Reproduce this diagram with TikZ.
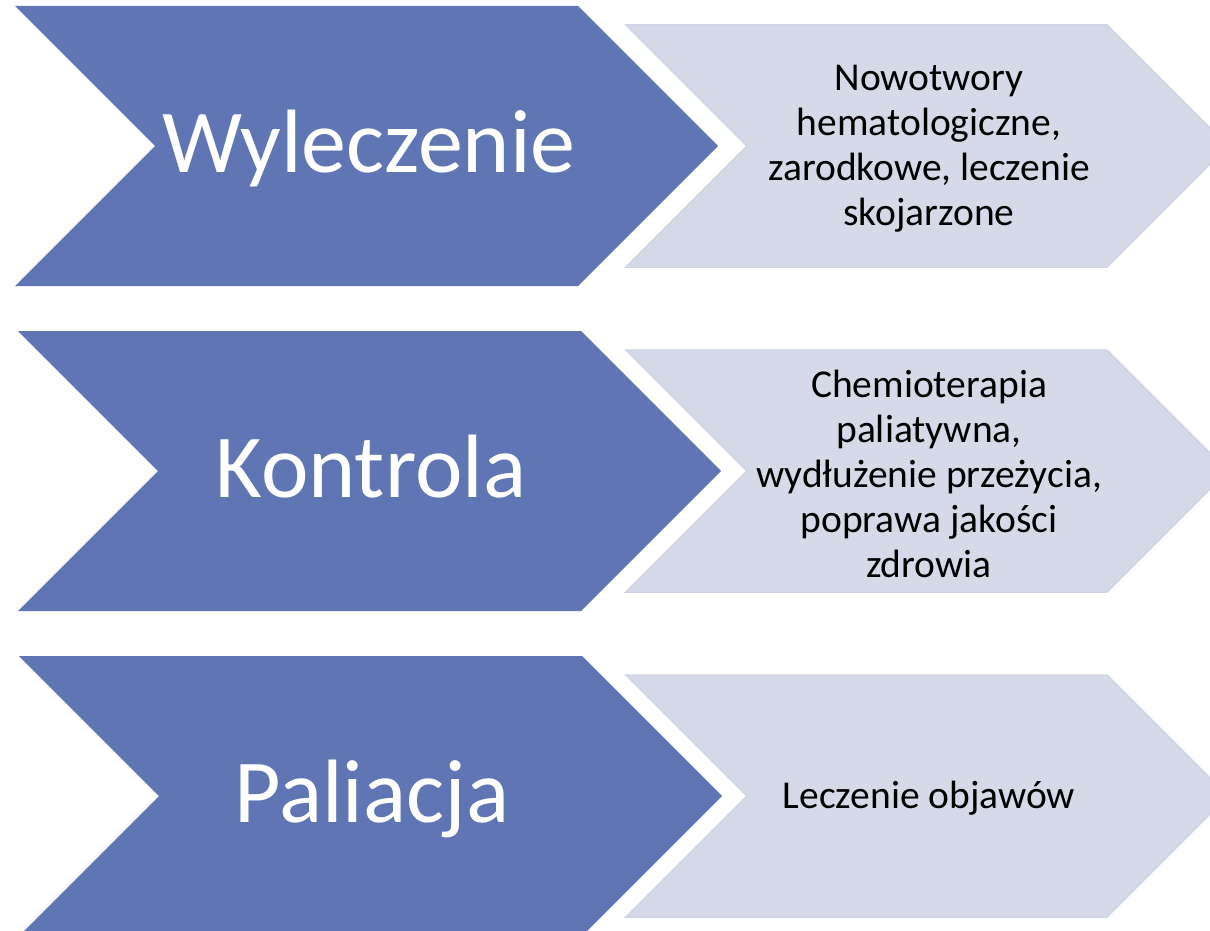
\documentclass[tikz,border=0pt]{standalone}
\usepackage{fontspec}
\setmainfont{Carlito}
\usetikzlibrary{positioning}
\definecolor{chevblue}{HTML}{6076B4}
\definecolor{chevgray}{HTML}{D6DAE8}
\definecolor{chevedge}{HTML}{D0D5E6}
\newcommand{\bigchev}[2]{% left x, centre y
  \fill[chevblue] (#1,#2-140) -- ++(563,0) -- ++(140,140) -- ++(-140,140) -- ++(-563,0) -- ++(140,-140) -- cycle;}
\newcommand{\smallchev}[1]{% centre y
  \filldraw[fill=chevgray, draw=chevedge, line width=1.5pt] (626,#1-121) -- ++(481,0) -- ++(121,121) -- ++(-121,121) -- ++(-481,0) -- ++(121,-121) -- cycle;}

\begin{document}
\begin{tikzpicture}[x=1pt, y=-1pt,
    title/.style={text=white, inner sep=0pt, anchor=base, font=\fontsize{90}{108}\selectfont},
    desc/.style={align=center, inner sep=0pt, font=\fontsize{39.5}{45}\selectfont}]
  \useasboundingbox (0,0) rectangle (1210,931);
  \clip (0,0) rectangle (1210,931);
  \bigchev{15}{146} \bigchev{18}{471} \bigchev{19}{796}
  \smallchev{146} \smallchev{471} \smallchev{796}
  \node[title] (cure)  at (369,172) {Wyleczenie};
  \node[title] (ctrl)  at (371,497) {Kontrola};
  \node[title] (pall)  at (372,822) {Paliacja};
  \node[desc]  (cureD) at (929,149) {Nowotwory\\hematologiczne,\\zarodkowe, leczenie\\skojarzone};
  \node[desc]  (ctrlD) at (929,474) {Chemioterapia\\paliatywna,\\wydłużenie przeżycia,\\poprawa jakości\\zdrowia};
  \node[desc]  (pallD) at (929,798) {Leczenie objawów};
\end{tikzpicture}
\end{document}
